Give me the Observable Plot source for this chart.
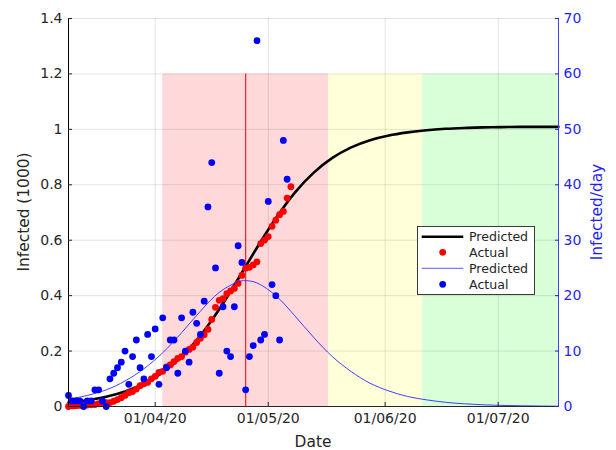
<!DOCTYPE html>
<html><head><meta charset="utf-8">
<script src="https://cdn.jsdelivr.net/npm/d3@7"></script>
<script src="https://cdn.jsdelivr.net/npm/@observablehq/plot@0.6"></script>
<style>
html,body{margin:0;padding:0;background:#fff;}
#chart{width:616px;height:450px;}
</style></head><body><div id="chart"></div>
<script>
// ---- data ----
const startDate = "2020-03-09";           // first day of the actual series
const xDomain = ["2020-03-09", "2020-07-17"];
// actual new infections per day (right axis)
const actualDaily = [2,1,1,1,0,1,1,3,3,1,0,5,6,7,8,10,4,9,12,7,5,13,9,14,4,16,7,12,12,6,16,10,8,17,15,13,19,36,44,25,6,18,10,9,18,29,26,3,9,11,66,12,13,37,22,20,12,48,41];
// actual cumulative infections, thousands (left axis)
const actualCumulative = [0,0.002,0.003,0.004,0.005,0.005,0.006,0.007,0.010,0.013,0.014,0.014,0.019,0.025,0.032,0.040,0.050,0.054,0.063,0.075,0.082,0.087,0.100,0.109,0.123,0.127,0.143,0.150,0.162,0.174,0.180,0.196,0.206,0.214,0.231,0.246,0.259,0.278,0.314,0.358,0.383,0.389,0.407,0.417,0.426,0.444,0.473,0.499,0.502,0.511,0.522,0.588,0.600,0.613,0.650,0.672,0.692,0.704,0.752,0.793];
// predicted curves
const predDates = ["2020-03-09","2020-03-14","2020-03-19","2020-03-24","2020-03-29","2020-04-03","2020-04-08","2020-04-13","2020-04-18","2020-04-23","2020-04-25","2020-04-28","2020-05-03","2020-05-08","2020-05-13","2020-05-18","2020-05-23","2020-05-28","2020-06-02","2020-06-07","2020-06-12","2020-06-17","2020-06-22","2020-06-27","2020-07-02","2020-07-07","2020-07-12","2020-07-17"];
const predCumulative = [0.0145,0.0225,0.035,0.054,0.082,0.123,0.180,0.256,0.351,0.460,0.505,0.573,0.679,0.771,0.843,0.897,0.935,0.961,0.978,0.989,0.997,1.002,1.005,1.007,1.008,1.009,1.009,1.009];
const predDaily = [1.3,2.0,3.0,4.6,6.8,9.7,13.3,17.2,20.6,22.5,22.7,22.3,20.0,16.4,12.5,9.0,6.3,4.2,2.8,1.8,1.2,0.76,0.49,0.31,0.20,0.13,0.08,0.05];
// shaded phases
const phaseStart = ["2020-04-03","2020-05-17","2020-06-11"];
const phaseEnd   = ["2020-05-17","2020-06-11","2020-07-17"];
const phaseColor = ["#ffd9d9","#ffffd9","#d9ffd9"];
const phaseTop = 1.2;
const peakDate = "2020-04-25";
// ticks
const xTicks = ["2020-04-01","2020-05-01","2020-06-01","2020-07-01"];
const leftTicks = [0,0.2,0.4,0.6,0.8,1,1.2,1.4];
const rightTicks = [0,10,20,30,40,50,60,70];
const legendLabels = ["Predicted","Actual","Predicted","Actual"];
const leftMax = 1.4, rightMax = 70;

// ---- build ----
const parse = d3.utcParse("%Y-%m-%d");
const t0 = parse(startDate);
const k = leftMax / rightMax;
const cumData = actualCumulative.map((v, i) => ({date: d3.utcDay.offset(t0, i), v}));
const dailyData = actualDaily.map((v, i) => ({date: d3.utcDay.offset(t0, i), v}));
const predData = predDates.map((d, i) => ({date: parse(d), c: predCumulative[i], n: predDaily[i]}));
const phases = phaseStart.map((s, i) => ({start: parse(s), end: parse(phaseEnd[i]), color: phaseColor[i]}));
const xt = xTicks.map(parse);
const dom = xDomain.map(parse);
const BLUE = "#1f1fff";
const FONT = "'DejaVu Sans', sans-serif";

const plot = Plot.plot({
  width: 616, height: 450,
  marginLeft: 68, marginRight: 58, marginTop: 18, marginBottom: 44,
  style: {fontFamily: FONT, fontSize: "14px", color: "#262626", background: "#fff", overflow: "visible"},
  x: {type: "utc", domain: dom},
  y: {domain: [0, leftMax]},
  color: {type: "identity"},
  marks: [
    Plot.rect(phases, {x1: "start", x2: "end", y1: 0, y2: phaseTop, fill: "color"}),
    Plot.gridY(leftTicks, {stroke: "#000", strokeOpacity: 0.11}),
    Plot.gridX(xt, {stroke: "#000", strokeOpacity: 0.11}),
    Plot.ruleX([parse(peakDate)], {y1: 0, y2: phaseTop, stroke: "#ff2020", strokeWidth: 1.2}),
    Plot.line(predData, {x: "date", y: "c", stroke: "#000", strokeWidth: 2.6, curve: "catmull-rom"}),
    Plot.dot(cumData, {x: "date", y: "v", r: 3.4, fill: "#ff0000"}),
    Plot.line(predData, {x: "date", y: d => d.n * k, stroke: "#2a2aff", strokeWidth: 0.9, curve: "catmull-rom"}),
    Plot.dot(dailyData, {x: "date", y: d => d.v * k, r: 3.4, fill: "#0000ff"}),
    Plot.ruleY([0], {stroke: "#262626", strokeWidth: 1}),
    Plot.ruleX([dom[0]], {stroke: "#000", strokeWidth: 1}),
    Plot.ruleX([dom[1]], {stroke: "#4040ff", strokeWidth: 1}),
    Plot.axisX(xt, {tickFormat: d3.utcFormat("%d/%m/%y"), tickSize: -4, tickPadding: 11, label: null, fill: "#262626", stroke: "#262626"}),
    Plot.axisY(leftTicks, {anchor: "left", tickSize: -4, tickPadding: 10, label: null, tickFormat: d => String(+d.toFixed(1)), fill: "#262626", stroke: "#262626"}),
    Plot.axisY(rightTicks.map(v => v * k), {anchor: "right", tickSize: -4, tickPadding: 9, label: null, tickFormat: d => String(Math.round(d / k)), fill: BLUE, stroke: BLUE})
  ]
});

const svg = d3.select(plot);
// axis titles
svg.append("text").attr("x", 313).attr("y", 441.5).attr("dy", "0.35em").attr("text-anchor", "middle")
  .style("font-size", "15.4px").attr("fill", "#262626").text("Date");
svg.append("text").attr("transform", "translate(24,212) rotate(-90)").attr("dy", "0.35em").attr("text-anchor", "middle")
  .style("font-size", "15.4px").attr("fill", "#262626").text("Infected (1000)");
svg.append("text").attr("transform", "translate(597,212) rotate(-90)").attr("dy", "0.35em").attr("text-anchor", "middle")
  .style("font-size", "15.4px").attr("fill", BLUE).text("Infected/day");

// legend
const lg = svg.append("g").attr("transform", "translate(417.5,226.5)").style("font-size", "12.6px").style("font-family", FONT);
lg.append("rect").attr("width", 117).attr("height", 68).attr("fill", "#fff").attr("stroke", "#262626").attr("stroke-width", 0.9);
const rowsY = [10.2, 25.8, 41.8, 57.8];
const legendKinds = [
  {type: "line", color: "#000", w: 2.6},
  {type: "dot", color: "#ff0000"},
  {type: "line", color: "#5a5aff", w: 1},
  {type: "dot", color: "#0000ff"}
];
legendLabels.forEach((lab, i) => {
  const y = rowsY[i], kd = legendKinds[i];
  if (kd.type === "line") lg.append("line").attr("x1", 4.2).attr("x2", 45.8).attr("y1", y).attr("y2", y).attr("stroke", kd.color).attr("stroke-width", kd.w);
  else lg.append("circle").attr("cx", 25.2).attr("cy", y).attr("r", 3.4).attr("fill", kd.color);
  lg.append("text").attr("x", 51.5).attr("y", y).attr("dy", "0.35em").attr("text-anchor", "start").attr("fill", "#262626").text(lab);
});

document.getElementById("chart").appendChild(plot);
</script>
</body></html>
